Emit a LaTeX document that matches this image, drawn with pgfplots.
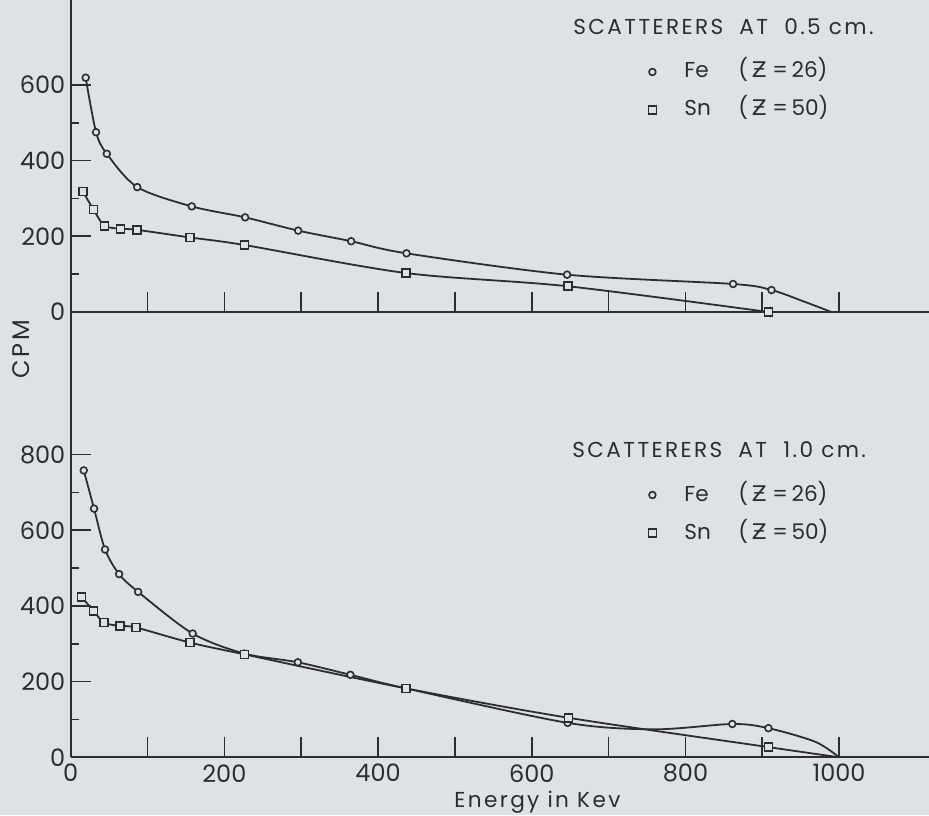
\documentclass[border=0pt]{standalone}
\usepackage{fontspec}
\setmainfont{Poppins}
\newfontfamily\dv{DejaVu Sans}
\newfontfamily\spaced{Poppins}[LetterSpace=11]
\usepackage{pgfplots}
\pgfplotsset{compat=1.18}
\definecolor{bg}{RGB}{222,225,229}
\definecolor{ink}{RGB}{45,45,45}
\newcommand{\Zs}{{\dv Ƶ}}
\pgfplotsset{
  panel/.style={
    scale only axis, anchor=south west,
    width=429.15pt,
    xmin=0, xmax=1117, ymin=0,
    axis x line*=bottom, axis y line*=left,
    axis line style={-, line width=0.9pt, color=ink},
    tick align=inside,
    major tick length=10pt, minor tick length=4pt,
    tick style={line width=0.8pt, color=ink},
    xtick={0,100,...,1000},
    ticklabel style={font=\fontsize{12}{14}\selectfont, text=ink},
    yticklabel style={inner xsep=2.5pt},
    /pgf/number format/assume math mode=true,
    clip=false,
    legend cell align=left,
    legend style={draw=none, fill=none, inner sep=0pt, anchor=north west,
      column sep=14pt, row sep=9pt,
      nodes={inner sep=0pt, text height=8pt, text depth=2pt,
        font=\fontsize{10.8}{12}\selectfont, text=ink}},
    legend image code/.code={\draw[mark repeat=2,mark phase=2,##1] plot coordinates {(0pt,0pt)(8pt,0pt)(16pt,0pt)};},
  },
  fe/.style={only marks, mark=*, mark size=1.7pt, mark options={fill=bg, draw=ink, line width=0.8pt}},
  sn/.style={only marks, mark=square*, mark size=2pt, mark options={fill=bg, draw=ink, line width=0.8pt}},
  curve/.style={smooth, no marks, line width=0.9pt, color=ink, forget plot},
}
\begin{document}
\begin{tikzpicture}
\fill[bg] (0,0) rectangle (464.5pt,407.5pt);
% ---------------- top panel: scatterers at 0.5 cm
\begin{axis}[panel, at={(35.35pt,251.5pt)}, height=156pt, ymax=824.3,
  ytick={0,200,400,600}, minor ytick={100,300,500}, xticklabels={},
  legend style={at={(0.6726,0.8026)}}]
\addplot[curve] coordinates {(19.5,619) (33,475) (47,418) (86.6,330) (157.5,279) (227,250) (296,215) (365,187) (437,155) (646,98.6) (862,74) (912,58) (955,27) (990,0)};
\addplot[curve] coordinates {(16,318) (29.5,271) (44,228) (65,220) (86.6,217) (155,197) (226,177) (436,103) (647,68) (908,0)};
\addplot[fe] coordinates {(19.5,619) (33,475) (47,418) (86.6,330) (157.5,279) (227,250) (296,215) (365,187) (437,155) (646,98.6) (862,74) (912,58)};
\addlegendentry{\makebox[27pt][l]{Fe}(\,\Zs\ =\,26)}
\addplot[sn] coordinates {(16,318) (29.5,271) (44,228) (65,220) (86.6,217) (155,197) (226,177) (436,103) (647,68) (908,0)};
\addlegendentry{\makebox[27pt][l]{Sn}(\,\Zs\ =\,50)}
\end{axis}
% ---------------- bottom panel: scatterers at 1.0 cm
\begin{axis}[panel, at={(35.35pt,28.85pt)}, height=222.65pt, ymax=1176.5,
  ytick={0,200,...,800}, minor ytick={100,300,500,700},
  xticklabels={0,{},200,{},400,{},600,{},800,{},1000},
  legend style={at={(0.6726,0.6124)}}]
\addplot[curve] coordinates {(17,758) (30.4,657) (44.7,549) (63,484) (87.8,437) (158.7,327) (226,274) (295.6,251) (364,218) (436.5,182) (646.7,91) (760,74) (861,88) (908,77) (969,41) (1000,0)};
\addplot[curve] coordinates {(14,424) (29.6,387) (43.4,356) (64,347) (84.8,343) (155.5,303) (226,272) (436.5,182) (647.6,104.5) (908,27) (1000,0)};
\addplot[fe] coordinates {(17,758) (30.4,657) (44.7,549) (63,484) (87.8,437) (158.7,327) (226,274) (295.6,251) (364,218) (436.5,182) (646.7,91) (861,88) (908,77)};
\addlegendentry{\makebox[27pt][l]{Fe}(\,\Zs\ =\,26)}
\addplot[sn] coordinates {(14,424) (29.6,387) (43.4,356) (64,347) (84.8,343) (155.5,303) (226,272) (436.5,182) (647.6,104.5) (908,27)};
\addlegendentry{\makebox[27pt][l]{Sn}(\,\Zs\ =\,50)}
\end{axis}
% ---------------- texts
\node[anchor=west, inner sep=0pt, font=\spaced\fontsize{10.8}{12}\selectfont, text=ink] at (286.5pt,394pt) {SCATTERERS\ \ AT\ \ 0.5 cm.};
\node[anchor=west, inner sep=0pt, font=\spaced\fontsize{10.8}{12}\selectfont, text=ink] at (286pt,182.5pt) {SCATTERERS\ \ AT\ \ 1.0 cm.};
\node[rotate=90, inner sep=0pt, font=\spaced\fontsize{12}{14}\selectfont, text=ink] at (10.75pt,233pt) {CPM};
\node[anchor=west, inner sep=0pt, font=\spaced\fontsize{10.8}{12}\selectfont, text=ink] at (227pt,6.5pt) {Energy in Kev};
\pgfresetboundingbox
\path (0,0) rectangle (464.5pt,407.5pt);
\end{tikzpicture}
\end{document}
